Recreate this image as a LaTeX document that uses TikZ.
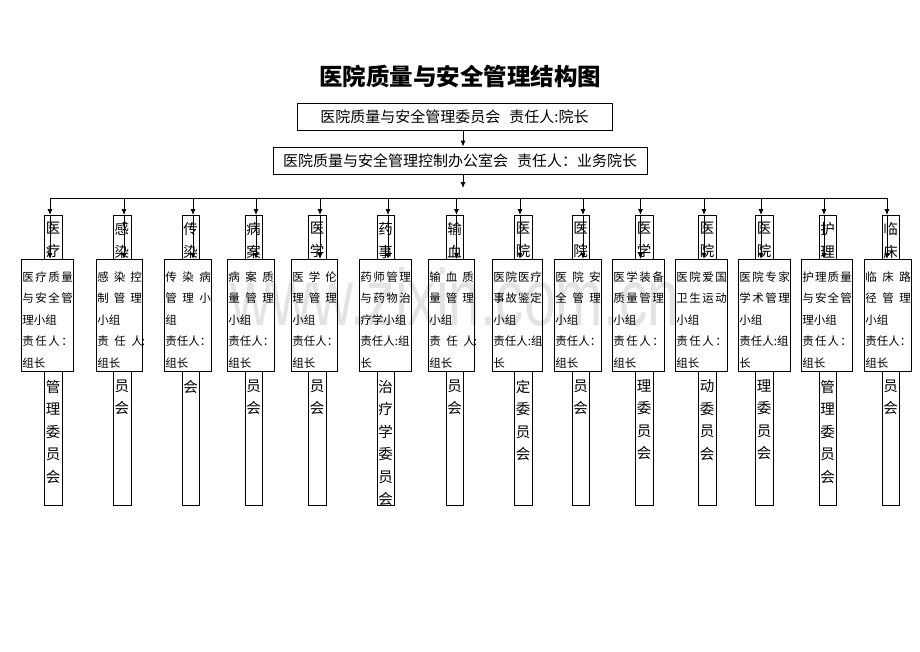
\documentclass[tikz,border=0pt]{standalone}
\usepackage{fontspec}
\usepackage{graphicx}
\setmainfont{Noto Sans CJK SC}
\newfontfamily\wmfont{Liberation Sans}
\usetikzlibrary{arrows.meta}
\newcommand\sline[1]{\makebox[\hsize][s]{#1}}
\newcommand\zrA{\sline{责\hfill 任\hfill 人\hfill ：}}
\newcommand\zrB{\sline{责\hfill 任\hfill 人\kern-1pt\rlap{:}}}
\newcommand\colx[6]{%
  \node[cbox, minimum width={#3-#2}, anchor=north west] (c#1) at (#2,215) {};
  \node[ctext, anchor=north] (ct#1) at ({(#2+#3)/2},222) {#5};
  \node[ctext, anchor=north] (cb#1) at ({(#2+#3)/2},379.5) {#6};
  \coordinate (b#1) at (#4,198);
}
\newcommand\grp[4]{%
  \node[gbox, minimum width={#3-#2}, anchor=north west] (g#1) at (#2,259) {};
  \pgfmathsetmacro\tw{#3-#2-1.5}
  \node[gtext, text width=\tw pt, anchor=north west] (gt#1) at (#2+1,271) {#4};
}
\begin{document}
\begin{tikzpicture}[x=1pt,y=-1pt,
  line width=0.8pt,
  arr/.style={-{Latex[length=6pt,width=5pt]}},
  cbox/.style={draw, rectangle, inner sep=0, minimum height=290},
  ctext/.style={inner sep=0, align=center, font=\fontsize{14.5}{22.5}\selectfont},
  gbox/.style={draw, rectangle, fill=white, inner sep=0, minimum height=112},
  gtext/.style={inner sep=0, align=left, font=\fontsize{11.5}{21.5}\selectfont},
  topbox/.style={draw, rectangle, inner sep=0, minimum height=27, font=\fontsize{15}{18}\selectfont}]
\useasboundingbox (0,0) rectangle (920,651);
\fill[white] (0,0) rectangle (920,651);

\node[font=\fontsize{23.5}{26}\selectfont\bfseries] (title) at (460,77) {医院质量与安全管理结构图};
\node[topbox, minimum width=315] (top1) at (454.5,116.5) {医院质量与安全管理委员会\hspace{0.6em}责任人:院长};
\node[topbox, minimum width=374] (top2) at (460,160.5) {医院质量与安全管理控制办公室会\hspace{0.6em}责任人：业务院长};
\coordinate (m) at (463,0);
\coordinate (busin) at (463,188);
\draw[arr] (m |- top1.south) -- (m |- top2.north);
\draw[arr] (m |- top2.south) -- (busin);

% committee columns (upper and lower visible parts of the vertical names)
\colx{1}{44}{62}{50}{医\\疗}{管\\理\\委\\员\\会}
\colx{2}{113}{130.5}{124}{感\\染}{员\\会}
\colx{3}{182}{199}{193}{传\\染}{会}
\colx{4}{245}{262}{256}{病\\案}{员\\会}
\colx{5}{308}{326}{320}{医\\学}{员\\会}
\colx{6}{377}{394}{388}{药\\事}{治\\疗\\学\\委\\员\\会}
\colx{7}{446}{463}{456.5}{输\\血}{员\\会}
\colx{8}{514}{532}{520}{医\\院}{定\\委\\员\\会}
\colx{9}{572}{589}{583}{医\\院}{员\\会}
\colx{10}{635}{653}{640.5}{医\\学}{理\\委\\员\\会}
\colx{11}{698}{716}{704}{医\\院}{动\\委\\员\\会}
\colx{12}{755}{773}{761}{医\\院}{理\\委\\员\\会}
\colx{13}{819}{836}{824}{护\\理}{管\\理\\委\\员\\会}
\colx{14}{882}{899}{887}{临\\床}{员\\会}

% group boxes
\grp{1}{21}{73}{\sline{医\hfill 疗\hfill 质\hfill 量}\\\sline{与\hfill 安\hfill 全\hfill 管}\\理小组\\\zrA\\组长}
\grp{2}{96}{142}{\sline{感\hfill 染\hfill 控}\\\sline{制\hfill 管\hfill 理}\\小组\\\zrB\\组长}
\grp{3}{164}{211}{\sline{传\hfill 染\hfill 病}\\\sline{管\hfill 理\hfill 小}\\组\\责任人：\\组长}
\grp{4}{227}{274}{\sline{病\hfill 案\hfill 质}\\\sline{量\hfill 管\hfill 理}\\小组\\责任人：\\组长}
\grp{5}{291}{337}{\sline{医\hfill 学\hfill 伦}\\\sline{理\hfill 管\hfill 理}\\小组\\责任人：\\组长}
\grp{6}{359}{411}{\sline{药\hfill 师\hfill 管\hfill 理}\\\sline{与\hfill 药\hfill 物\hfill 治}\\疗学小组\\责任人:组\\长}
\grp{7}{428}{474}{\sline{输\hfill 血\hfill 质}\\\sline{量\hfill 管\hfill 理}\\小组\\\zrB\\组长}
\grp{8}{492}{542}{\sline{医\hfill 院\hfill 医\hfill 疗}\\\sline{事\hfill 故\hfill 鉴\hfill 定}\\小组\\责任人:组\\长}
\grp{9}{554}{601}{\sline{医\hfill 院\hfill 安}\\\sline{全\hfill 管\hfill 理}\\小组\\责任人：\\组长}
\grp{10}{612}{664}{\sline{医\hfill 学\hfill 装\hfill 备}\\\sline{质\hfill 量\hfill 管\hfill 理}\\小组\\\zrA\\组长}
\grp{11}{675}{727}{\sline{医\hfill 院\hfill 爱\hfill 国}\\\sline{卫\hfill 生\hfill 运\hfill 动}\\小组\\\zrA\\组长}
\grp{12}{738}{790}{\sline{医\hfill 院\hfill 专\hfill 家}\\\sline{学\hfill 术\hfill 管\hfill 理}\\小组\\责任人:组\\长}
\grp{13}{801}{852}{\sline{护\hfill 理\hfill 质\hfill 量}\\\sline{与\hfill 安\hfill 全\hfill 管}\\理小组\\\zrA\\组长}
\grp{14}{864}{911}{\sline{临\hfill 床\hfill 路}\\\sline{径\hfill 管\hfill 理}\\小组\\责任人：\\组长}

% bus and arrows
\draw (b1) -- (b14);
\foreach \i in {1,...,14}{
  \draw[arr] (b\i) -- (b\i |- c\i.north);
  \draw[arr] (b\i |- c\i.north) -- (b\i |- g\i.north);
}

% watermark
\node[anchor=base, inner sep=0, text=black, text opacity=0.11, font=\wmfont\fontsize{80}{80}\selectfont] (wm) at (455,325) {\scalebox{0.71}[1]{www.zixin.com.cn}};
\end{tikzpicture}
\end{document}
